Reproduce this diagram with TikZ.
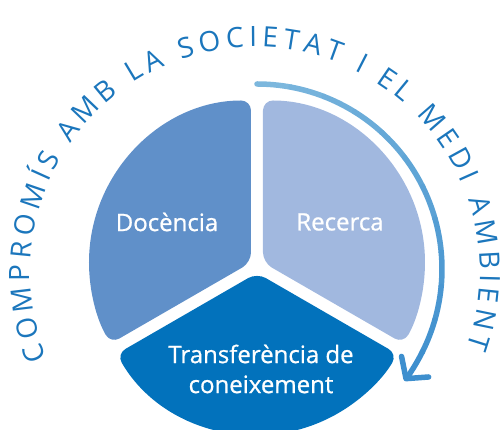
\documentclass[tikz,border=0pt]{standalone}
\usepackage{fontspec}
\setmainfont{Open Sans}
\newfontfamily\labelfont[FakeBold=0.8]{Open Sans}
\newfontfamily\arcfont{Open Sans}
\usetikzlibrary{decorations.text,arrows.meta}
\definecolor{docenciaColor}{RGB}{96,144,201}
\definecolor{recercaColor}{RGB}{161,184,223}
\definecolor{transferColor}{RGB}{2,114,188}
\definecolor{arcTextColor}{RGB}{27,118,188}
\definecolor{arrowLightColor}{RGB}{124,183,221}
\definecolor{arrowDarkColor}{RGB}{62,143,206}

\tikzset{
    sector/.style={rounded corners=10pt},
    sectorLabel/.style={text=white, font=\labelfont\fontsize{24}{30}\selectfont, align=center}
}

\begin{document}
\begin{tikzpicture}[x=1pt, y=1pt]
    \useasboundingbox (-257,-164) rectangle (247,266);
    \coordinate (arrowCenter) at (0,-3);
    \coordinate (arcCenter) at (-2,-6);
    
    % Pie sectors, pulled apart a little
    \fill[docenciaColor, sector] (-6,3.5) -- ++(90:162) arc[start angle=90, end angle=210, radius=162] -- cycle;
    \fill[recercaColor, sector] (6,3.5) -- ++(90:162) arc[start angle=90, end angle=-30, radius=162] -- cycle;
    \fill[transferColor, sector] (0,-7) -- ++(210:162) arc[start angle=210, end angle=330, radius=162] -- cycle;
    
    \node[sectorLabel] (docencia) at (-90,44) {Docència};
    \node[sectorLabel] (recerca) at (83,44) {Recerca};
    \node[sectorLabel] (transferencia) at (4,-103) {Transferència de\\coneixement};
    
    % Arrow around the right side, light to dark
    \foreach \i in {0,...,10} {
        \pgfmathtruncatemacro{\mix}{100-\i*100/11}
        \draw[arrowLightColor!\mix!arrowDarkColor, line width=5.5pt, line cap=round]
            ([shift={(90-\i*10.6:185)}]arrowCenter) arc[start angle=90-\i*10.6, end angle=90-(\i+1)*10.6, radius=185];
    }
    \draw[arrowDarkColor, line width=5.5pt, line cap=round, -{Straight Barb[length=15pt, width=34pt, round]}]
        ([shift={(-26.6:185)}]arrowCenter) arc[start angle=-26.6, end angle=-37.2, radius=185];
    
    % Text along the outer circle
    \path[decorate, decoration={text along path, text align=fit to path,
        text={|\arcfont\fontsize{28}{32}\selectfont\color{arcTextColor}|COMPROMÍS AMB LA SOCIETAT I EL MEDI AMBIENT}}]
        ([shift={(202.5:225)}]arcCenter) arc[start angle=202.5, end angle=-19.5, radius=225];
\end{tikzpicture}
\end{document}
